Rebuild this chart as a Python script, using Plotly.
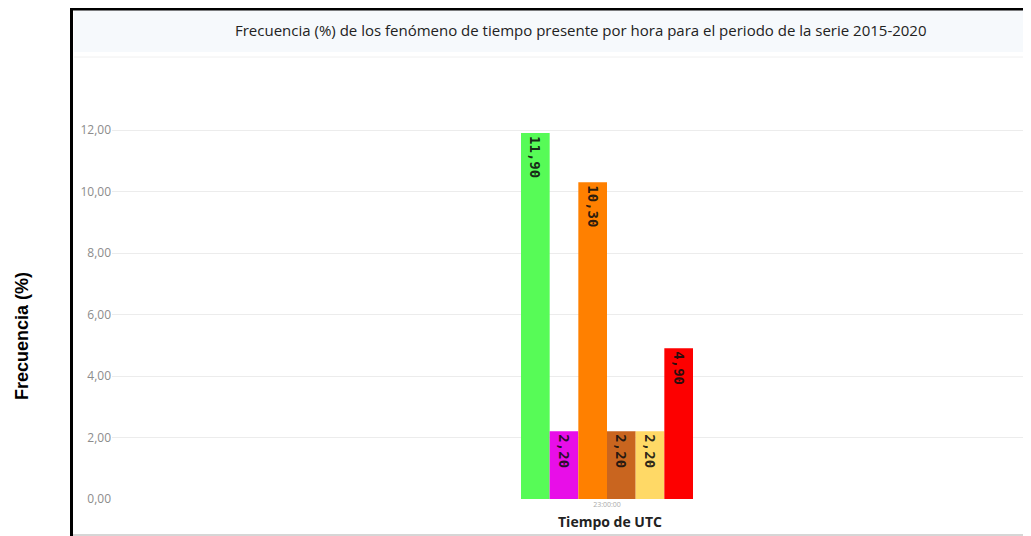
import plotly.graph_objects as go

W, H = 1031, 536
OFF = 8  # page body margin offset

categories = ["23:00:00"]
series_names = ["Fenómeno 1", "Fenómeno 2", "Fenómeno 3", "Fenómeno 4", "Fenómeno 5", "Fenómeno 6"]
series_values = [11.90, 2.20, 10.30, 2.20, 2.20, 4.90]
series_colors = ["#57fb57", "#e80ee8", "#ff8000", "#c9651f", "#ffd966", "#fd0000"]
y_ticks = [0, 2, 4, 6, 8, 10, 12]

def px(x):
    return (x - OFF) / W

def py(y):
    return 1 - (y - OFF) / H

fig = go.Figure()
for name, val, col in zip(series_names, series_values, series_colors):
    fig.add_trace(go.Bar(
        x=categories, y=[val], name=name,
        marker=dict(color=col, line=dict(width=0)),
        texttemplate="%{y:.2f}", textposition="inside",
        insidetextanchor="end", textangle=90,
        textfont=dict(family="DejaVu Sans Mono", size=14, color="rgba(15,15,15,0.9)", weight="bold"),
        hoverinfo="skip",
    ))

x_px_per_unit = 860.0
x_lo = -(607 - 112) / x_px_per_unit
x_hi = x_lo + (1039 - 112) / x_px_per_unit
y_top = (499 - 57) / 30.75

fig.update_layout(
    width=W, height=H,
    margin=dict(l=0, r=0, t=0, b=0),
    paper_bgcolor="white", plot_bgcolor="white",
    barmode="group", bargap=0.8, bargroupgap=0,
    showlegend=False,
    separators=",.",
    xaxis=dict(domain=[px(112), 1.0], range=[x_lo, x_hi], automargin=False,
               showgrid=False, zeroline=False, showline=False, ticks="",
               tickfont=dict(size=7, color="#aaaaaa", family="Open Sans")),
    yaxis=dict(domain=[py(499), py(57)], range=[0, y_top], automargin=False,
               tickvals=y_ticks, tickformat=".2f",
               showgrid=True, gridcolor="#ececec", gridwidth=1,
               zeroline=False, showline=False, ticks="",
               tickfont=dict(size=12, color="#8c8c8c", family="Open Sans")),
    shapes=[
        dict(type="rect", xref="paper", yref="paper", x0=px(74), x1=1.0, y0=py(52), y1=py(10),
             fillcolor="#f6f9fc", line=dict(width=0), layer="below"),
        dict(type="line", xref="paper", yref="paper", x0=px(74), x1=1.0, y0=py(57), y1=py(57),
             line=dict(color="#f0f0f0", width=1)),
        dict(type="rect", xref="paper", yref="paper", x0=px(70), x1=1.0, y0=py(10.5), y1=py(8),
             fillcolor="black", line=dict(width=0)),
        dict(type="line", xref="paper", yref="paper", x0=px(71.5), x1=px(71.5), y0=py(8), y1=py(536),
             line=dict(color="black", width=3)),
        dict(type="line", xref="paper", yref="paper", x0=px(73), x1=1.0, y0=py(535), y1=py(535),
             line=dict(color="#c8c8c8", width=1.5)),
    ],
    annotations=[
        dict(text="Frecuencia (%) de los fenómeno de tiempo presente por hora para el periodo de la serie 2015-2020",
             xref="paper", yref="paper", x=px(581), y=py(30), showarrow=False,
             xanchor="center", yanchor="middle",
             font=dict(family="Open Sans", size=15, color="#222222")),
        dict(text="<b>Frecuencia (%)</b>", xref="paper", yref="paper", x=px(22), y=py(336),
             showarrow=False, textangle=-90, xanchor="center", yanchor="middle",
             font=dict(family="Liberation Sans", size=18, color="black")),
        dict(text="<b>Tiempo de UTC</b>", xref="paper", yref="paper", x=px(610), y=py(521),
             showarrow=False, xanchor="center", yanchor="middle",
             font=dict(family="Open Sans", size=14, color="#222222")),
    ],
)

fig.write_html("out.html")
